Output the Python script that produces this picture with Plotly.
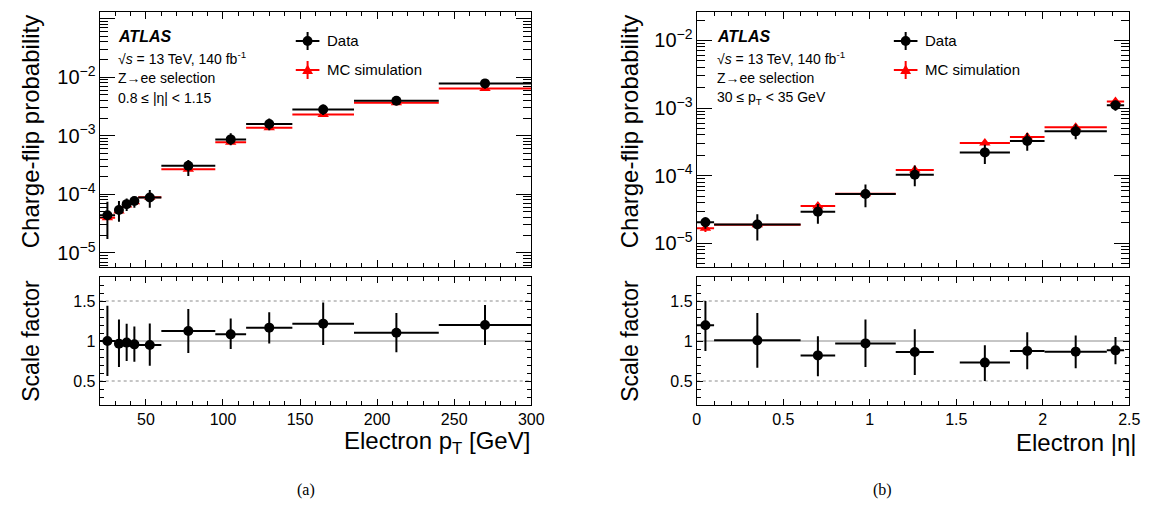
import plotly.graph_objects as go

W, H = 1156, 509

# ---------------- Panel (a): electron pT, 0.8 <= |eta| < 1.15 ----------------
pt_lo = [20, 30, 35, 40, 45, 60, 95, 115, 145, 185, 240]
pt_hi = [30, 35, 40, 45, 60, 95, 115, 145, 185, 240, 300]
pt_data = [4.4e-5, 5.4e-5, 6.8e-5, 7.7e-5, 8.8e-5, 3.08e-4, 8.65e-4, 1.58e-3, 2.8e-3, 3.95e-3, 7.8e-3]
pt_data_up = [7.5e-5, 7.7e-5, 8.5e-5, 9.2e-5, 1.18e-4, 3.84e-4, 1.10e-3, 1.97e-3, 3.4e-3, 4.6e-3, 9.2e-3]
pt_data_down = [1.73e-5, 3.4e-5, 5.2e-5, 5.9e-5, 5.9e-5, 2.05e-4, 6.9e-4, 1.24e-3, 2.25e-3, 3.3e-3, 6.4e-3]
pt_mc = [4.0e-5, 5.2e-5, 6.6e-5, 7.5e-5, 8.9e-5, 2.67e-4, 7.7e-4, 1.37e-3, 2.3e-3, 3.63e-3, 6.4e-3]
pt_mc_relerr = [0.08, 0.07, 0.06, 0.06, 0.05, 0.05, 0.05, 0.05, 0.05, 0.05, 0.05]
pt_sf = [1.00, 0.967, 0.98, 0.958, 0.95, 1.125, 1.083, 1.167, 1.217, 1.104, 1.20]
pt_sf_up = [1.44, 1.27, 1.217, 1.18, 1.22, 1.40, 1.28, 1.36, 1.48, 1.35, 1.45]
pt_sf_down = [0.5625, 0.675, 0.75, 0.74, 0.69, 0.85, 0.90, 0.97, 0.95, 0.86, 0.95]
pt_range = [20, 300]

# ---------------- Panel (b): electron |eta|, 30 <= pT < 35 GeV ----------------
eta_lo = [0.0, 0.1, 0.6, 0.8, 1.15, 1.52, 1.81, 2.01, 2.37]
eta_hi = [0.1, 0.6, 0.8, 1.15, 1.37, 1.81, 2.01, 2.37, 2.47]
eta_data = [2.05e-5, 1.9e-5, 2.94e-5, 5.37e-5, 1.03e-4, 2.21e-4, 3.25e-4, 4.52e-4, 1.10e-3]
eta_data_up = [2.43e-5, 2.7e-5, 3.83e-5, 7.4e-5, 1.41e-4, 2.86e-4, 4.27e-4, 5.78e-4, 1.28e-3]
eta_data_down = [1.64e-5, 1.1e-5, 1.94e-5, 3.42e-5, 6.97e-5, 1.49e-4, 2.34e-4, 3.47e-4, 9.1e-4]
eta_mc = [1.67e-5, 1.88e-5, 3.57e-5, 5.4e-5, 1.21e-4, 3.03e-4, 3.72e-4, 5.2e-4, 1.25e-3]
eta_mc_relerr = [0.12, 0.06, 0.10, 0.07, 0.07, 0.06, 0.06, 0.06, 0.06]
eta_sf = [1.196, 1.008, 0.82, 0.97, 0.8625, 0.73, 0.875, 0.867, 0.883]
eta_sf_up = [1.50, 1.35, 1.06, 1.27, 1.146, 0.946, 1.11, 1.07, 1.05]
eta_sf_down = [0.875, 0.667, 0.56, 0.675, 0.575, 0.50, 0.646, 0.658, 0.708]
eta_range = [0, 2.5]

sf_range = [0.2, 1.8]
sf_unity = 1.0
sf_band = [0.5, 1.5]

FONT = "Liberation Sans, Arial, Helvetica, sans-serif"
RED = "#ff0000"
GREY = "#8c8c8c"


def px_x(p):
    return p / W


def px_y(p):
    return 1 - p / H


def centers(lo, hi):
    return [(a + b) / 2 for a, b in zip(lo, hi)]


def halfw(lo, hi):
    return [(b - a) / 2 for a, b in zip(lo, hi)]


def diff_up(v, up):
    return [u - a for a, u in zip(v, up)]


def diff_down(v, dn):
    return [a - d for a, d in zip(v, dn)]


fig = go.Figure()


def add_panel(lo, hi, xr, data, dup, ddn, mc, mcrel, sf, sfup, sfdn, xa_up, ya_up, xa_lo, ya_lo):
    xc = centers(lo, hi)
    hw = halfw(lo, hi)
    fig.add_trace(go.Scatter(x=xr, y=[sf_unity, sf_unity], mode="lines", xaxis=xa_lo, yaxis=ya_lo,
                             showlegend=False, hoverinfo="skip", line=dict(color=GREY, width=1)))
    for v in sf_band:
        fig.add_trace(go.Scatter(x=xr, y=[v, v], mode="lines", xaxis=xa_lo, yaxis=ya_lo,
                                 showlegend=False, hoverinfo="skip",
                                 line=dict(color=GREY, width=1, dash="3px,3px")))
    fig.add_trace(go.Scatter(
        x=xc, y=mc, mode="markers", xaxis=xa_up, yaxis=ya_up, showlegend=False,
        marker=dict(symbol="triangle-up", size=10, color=RED),
        error_x=dict(type="data", array=hw, width=0, thickness=2, color=RED),
        error_y=dict(type="data", array=[m * r for m, r in zip(mc, mcrel)], width=0, thickness=2, color=RED),
    ))
    fig.add_trace(go.Scatter(
        x=xc, y=data, mode="markers", xaxis=xa_up, yaxis=ya_up, showlegend=False,
        marker=dict(symbol="circle", size=10, color="black"),
        error_x=dict(type="data", array=hw, width=0, thickness=2, color="black"),
        error_y=dict(type="data", symmetric=False, array=diff_up(data, dup),
                     arrayminus=diff_down(data, ddn), width=0, thickness=2, color="black"),
    ))
    fig.add_trace(go.Scatter(
        x=xc, y=sf, mode="markers", xaxis=xa_lo, yaxis=ya_lo, showlegend=False,
        marker=dict(symbol="circle", size=10, color="black"),
        error_x=dict(type="data", array=hw, width=0, thickness=2, color="black"),
        error_y=dict(type="data", symmetric=False, array=diff_up(sf, sfup),
                     arrayminus=diff_down(sf, sfdn), width=0, thickness=2, color="black"),
    ))


add_panel(pt_lo, pt_hi, pt_range, pt_data, pt_data_up, pt_data_down, pt_mc, pt_mc_relerr,
          pt_sf, pt_sf_up, pt_sf_down, "x", "y", "x2", "y2")
add_panel(eta_lo, eta_hi, eta_range, eta_data, eta_data_up, eta_data_down, eta_mc, eta_mc_relerr,
          eta_sf, eta_sf_up, eta_sf_down, "x3", "y3", "x4", "y4")

# ---------------- axes ----------------
L_dom = [px_x(89), px_x(527)]
R_dom = [px_x(695), px_x(1134)]
UP_dom = [px_y(259), px_y(4)]
LO_dom = [px_y(397), px_y(269)]

common = dict(showline=True, linecolor="black", linewidth=1, mirror="ticks",
              ticks="inside", tickcolor="black", tickwidth=1, showgrid=False, zeroline=False,
              tickfont=dict(family=FONT, size=16, color="black"))


def lin_axis(dom, anchor, rng, dtick, minor_dtick, labels, ticklen=7):
    return dict(domain=dom, anchor=anchor, range=rng, tickmode="linear", tick0=0, dtick=dtick,
                ticklen=ticklen, showticklabels=labels,
                minor=dict(ticks="inside", tickmode="linear", tick0=0, dtick=minor_dtick,
                           ticklen=4, tickcolor="black", tickwidth=1, showgrid=False),
                **common)


def log_axis(dom, anchor, rng):
    return dict(domain=dom, anchor=anchor, type="log", range=rng, tickmode="linear", tick0=0, dtick=1,
                exponentformat="power", showexponent="all", ticklen=15,
                minor=dict(ticks="inside", dtick="D1", ticklen=8, tickcolor="black",
                           tickwidth=1, showgrid=False),
                **common)


fig.update_layout(
    xaxis=lin_axis(L_dom, "y", pt_range, 50, 10, False),
    yaxis=log_axis(UP_dom, "x", [-5.24, -0.89]),
    xaxis2=lin_axis(L_dom, "y2", pt_range, 50, 10, True, 6),
    yaxis2=lin_axis(LO_dom, "x2", sf_range, 0.5, 0.1, True, 6),
    xaxis3=lin_axis(R_dom, "y3", eta_range, 0.5, 0.1, False),
    yaxis3=log_axis(UP_dom, "x3", [-5.35, -1.58]),
    xaxis4=lin_axis(R_dom, "y4", eta_range, 0.5, 0.1, True, 6),
    yaxis4=lin_axis(LO_dom, "x4", sf_range, 0.5, 0.1, True, 6),
)

ann = []


def text(x, y, s, size=14, **kw):
    d = dict(x=px_x(x), y=px_y(y), xref="paper", yref="paper", text=s, showarrow=False,
             xanchor="left", yanchor="middle", font=dict(family=FONT, size=size, color="black"))
    d.update(kw)
    ann.append(d)


for x0, last in ((106, "0.8 \u2264 |\u03b7| &lt; 1.15"), (713, "30 \u2264 p<sub>T</sub> &lt; 35 GeV")):
    text(x0, 29, "<b><i>ATLAS</i></b>", size=16)
    text(x0, 50, "\u221a<i>s</i> = 13 TeV, 140 fb<sup>-1</sup>", size=14)
    text(x0, 70, "Z\u2192ee selection", size=14)
    text(x0, 90, last, size=14)

text(19, 5, "Charge-flip probability", size=24, textangle=-90, xanchor="center", yanchor="top")
text(19, 270, "Scale factor", size=23, textangle=-90, xanchor="center", yanchor="top")
text(627, 5, "Charge-flip probability", size=24, textangle=-90, xanchor="center", yanchor="top")
text(627, 270, "Scale factor", size=23, textangle=-90, xanchor="center", yanchor="top")
text(528, 434, "Electron p<sub>T</sub> [GeV]", size=24, xanchor="right")
text(1144, 434, "Electron |\u03b7|", size=24, xanchor="right")

for xx, lab in ((287, "(a)"), (895, "(b)")):
    ann.append(dict(x=px_x(xx), y=px_y(493), xref="paper", yref="paper", text=lab, showarrow=False,
                    font=dict(family="Liberation Serif, Times New Roman, serif", size=16, color="black")))

# ---------------- legend (ROOT style: marker with error-bar cross) ----------------
shapes = []


def seg(x0, y0, x1, y1, col):
    shapes.append(dict(type="line", xref="paper", yref="paper", x0=px_x(x0), y0=px_y(y0),
                       x1=px_x(x1), y1=px_y(y1), line=dict(color=col, width=2)))


def legend_entry(cx, cy, label, kind):
    col = "black" if kind == "data" else RED
    seg(cx - 12, cy, cx + 12, cy, col)
    seg(cx, cy - 9, cx, cy + 9, col)
    if kind == "data":
        shapes.append(dict(type="circle", xref="paper", yref="paper", x0=px_x(cx - 5), x1=px_x(cx + 5),
                           y0=px_y(cy + 5), y1=px_y(cy - 5), fillcolor="black", line=dict(color="black", width=0)))
    else:
        path = "M {:.5f} {:.5f} L {:.5f} {:.5f} L {:.5f} {:.5f} Z".format(
            px_x(cx), px_y(cy - 5.5), px_x(cx - 5.5), px_y(cy + 4), px_x(cx + 5.5), px_y(cy + 4))
        shapes.append(dict(type="path", xref="paper", yref="paper", path=path, fillcolor=RED,
                           line=dict(color=RED, width=0)))
    text(cx + 18, cy, label, size=15)


legend_entry(300, 33, "Data", "data")
legend_entry(300, 62, "MC simulation", "mc")
legend_entry(907, 33, "Data", "data")
legend_entry(907, 62, "MC simulation", "mc")

fig.update_layout(
    width=W, height=H, margin=dict(l=0, r=0, t=0, b=0),
    paper_bgcolor="white", plot_bgcolor="white",
    annotations=ann, shapes=shapes, showlegend=False,
)

fig.write_html("out.html")
